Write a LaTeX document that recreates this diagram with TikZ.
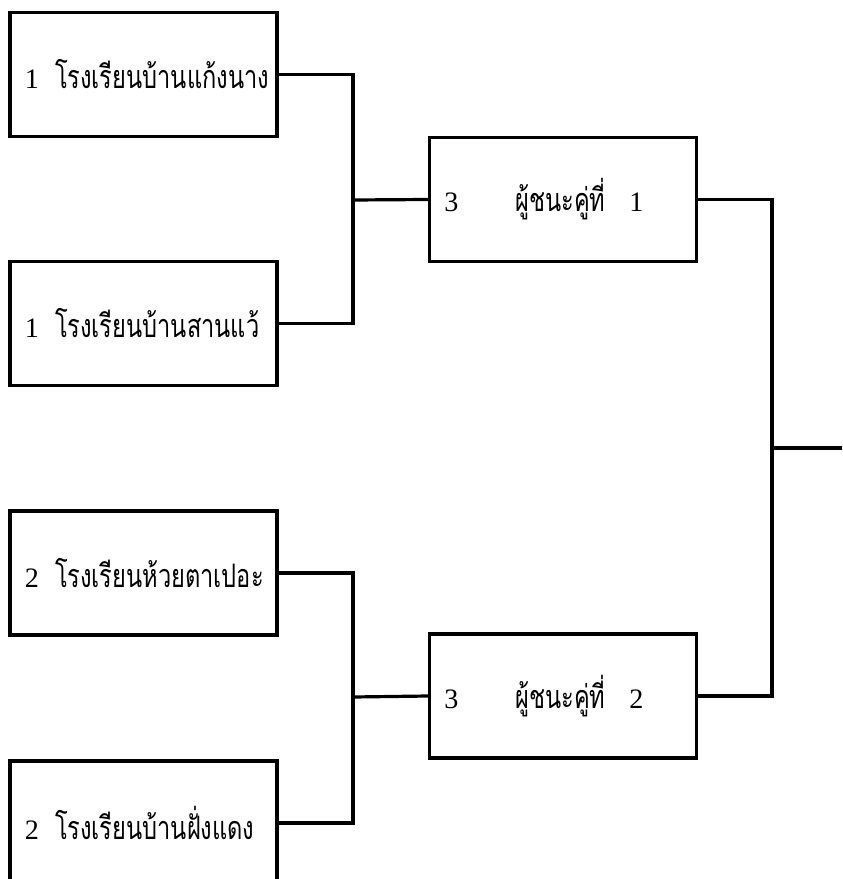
\documentclass[tikz,border=0pt]{standalone}
\usepackage{fontspec}
\setmainfont{Liberation Serif}
\newfontfamily\thaifont[Script=Thai, Scale=1.15, FakeStretch=0.73]{Loma}
\newcommand\seed[2]{#1\hspace{0.4cm}{\thaifont #2}}
\newcommand\winner[2]{#1\hspace{1.42cm}{\thaifont ผู้ชนะคู่ที่}\hspace{0.6cm}#2}

\begin{document}
\begin{tikzpicture}[x=0.025cm, y=-0.025cm, line width=0.08cm,
		box/.style={draw, minimum width=6.675cm, minimum height=3.1cm, inner sep=0pt,
				text width=5.925cm, align=left, font=\fontsize{20}{24}\selectfont}]
	\useasboundingbox (0,0) rectangle (842,879);

	% first round
	\node[box] (A) at (143.5,74.5) {\mbox{\seed{1}{โรงเรียนบ้านแก้งนาง}}};
	\node[box] (B) at (143.5,323.5) {\mbox{\seed{1}{โรงเรียนบ้านสานแว้}}};
	\node[box] (E) at (143.5,573) {\mbox{\seed{2}{โรงเรียนห้วยตาเปอะ}}};
	\node[box] (F) at (143.5,823) {\mbox{\seed{2}{โรงเรียนบ้านฝั่งแดง}}};

	% winners
	\node[box] (C) at (563,199.5) {\mbox{\winner{3}{1}}};
	\node[box] (D) at (563,696) {\mbox{\winner{3}{2}}};

	\coordinate (AB) at (353,200);
	\coordinate (EF) at (353,697);
	\coordinate (CD) at (772,448);
	\coordinate (out) at (842,448);

	\draw (A.east) -| (AB) |- (B.east);
	\draw (E.east) -| (EF) |- (F.east);
	\draw (AB) -- (C.west);
	\draw (EF) -- (D.west);
	\draw (C.east) -| (CD) |- (D.east);
	\draw (CD) -- (out);
\end{tikzpicture}
\end{document}
